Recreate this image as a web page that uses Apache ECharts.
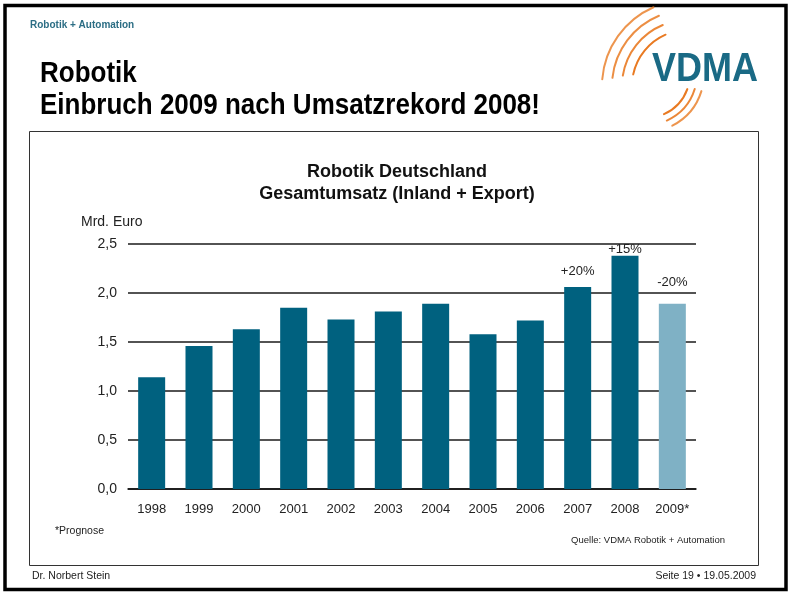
<!DOCTYPE html>
<html>
<head>
<meta charset="utf-8">
<script src="https://cdn.jsdelivr.net/npm/echarts@6/dist/echarts.min.js"></script>
<style>
  html, body { margin: 0; padding: 0; background: #fff; }
  #main { width: 791px; height: 600px; }
</style>
</head>
<body>
<div id="main"></div>
<script>
  // Daten: Robotik Deutschland, Gesamtumsatz in Mrd. Euro
  var years = ['1998', '1999', '2000', '2001', '2002', '2003', '2004', '2005', '2006', '2007', '2008', '2009*'];
  var umsatz = [1.14, 1.46, 1.63, 1.85, 1.73, 1.81, 1.89, 1.58, 1.72, 2.06, 2.38, 1.89];
  var changeLabels = ['', '', '', '', '', '', '', '', '', '+20%', '+15%', '-20%'];
  var yTicks = ['0,0', '0,5', '1,0', '1,5', '2,0', '2,5'];

  var FONT = '"Liberation Sans", Arial, sans-serif';
  var TEAL = '#00617f';
  var TEAL_LIGHT = '#7fb1c5';
  var ORANGE = '#e97a22';

  var chart = echarts.init(document.getElementById('main'), null, { renderer: 'canvas' });

  // Balken: 2009 ist Prognose -> hellere Farbe
  var barData = umsatz.map(function (v, i) {
    var item = { value: v };
    if (i === years.length - 1) {
      item.itemStyle = { color: TEAL_LIGHT };
    }
    if (changeLabels[i]) {
      item.label = {
        show: true,
        formatter: changeLabels[i],
        distance: i === 9 ? 9 : (i === 10 ? 0 : 15)
      };
    }
    return item;
  });

  // Logo-Bögen (orange)
  function arc(cx, cy, r, a0, a1, w, op) {
    return {
      type: 'arc',
      silent: true,
      shape: { cx: cx, cy: cy, r: r, startAngle: a0, endAngle: a1 },
      style: { stroke: ORANGE, lineWidth: w, fill: null, opacity: op, lineCap: 'round' }
    };
  }

  var option = {
    animation: false,
    textStyle: { fontFamily: FONT },
    grid: { left: 128, right: 95, top: 244, bottom: 111 },
    xAxis: {
      type: 'category',
      data: years,
      axisLine: { lineStyle: { color: '#111', width: 1.5 } },
      axisTick: { show: false },
      axisLabel: { color: '#222', fontSize: 13, margin: 14, fontFamily: FONT }
    },
    yAxis: {
      type: 'value',
      min: 0,
      max: 2.5,
      interval: 0.5,
      axisLine: { show: false },
      axisTick: { show: false },
      splitLine: { lineStyle: { color: '#1a1a1a', width: 1.5 } },
      axisLabel: {
        color: '#222',
        fontSize: 14,
        margin: 11,
        fontFamily: FONT,
        formatter: function (v) { return yTicks[Math.round(v / 0.5)]; }
      }
    },
    series: [{
      type: 'bar',
      data: barData,
      barWidth: 27,
      itemStyle: { color: TEAL },
      label: {
        show: false,
        position: 'top',
        color: '#222',
        fontSize: 13,
        fontFamily: FONT
      }
    }],
    graphic: [
      // Rahmen außen
      {
        type: 'rect', silent: true,
        shape: { x: 5, y: 5.5, width: 781, height: 584 },
        style: { fill: null, stroke: '#000', lineWidth: 3.5 }
      },
      // Diagrammbox
      {
        type: 'rect', silent: true,
        shape: { x: 29.5, y: 131.5, width: 729, height: 434 },
        style: { fill: null, stroke: '#333', lineWidth: 1 }
      },
      // Kopfzeile
      {
        type: 'text', left: 30, top: 20,
        style: { text: 'Robotik + Automation', fill: '#2b6d84', font: 'bold 10px ' + FONT }
      },
      {
        type: 'text', x: 40, y: 59, scaleY: 1.12,
        style: { text: 'Robotik', fill: '#000', font: 'bold 26px ' + FONT }
      },
      {
        type: 'text', x: 40, y: 91, scaleY: 1.12,
        style: { text: 'Einbruch 2009 nach Umsatzrekord 2008!', fill: '#000', font: 'bold 26px ' + FONT }
      },
      // VDMA Logo
      arc(688, 86, 86, 3.22, 4.3, 2, 0.8),
      arc(688, 86, 76, 3.25, 4.32, 2, 0.85),
      arc(688, 86, 66, 3.3, 4.32, 2, 0.9),
      arc(688, 86, 56, 3.35, 4.3, 2, 1),
      arc(646, 74, 44, 0.35, 1.15, 2, 1),
      arc(646, 74, 51, 0.3, 1.15, 2, 0.9),
      arc(646, 74, 58, 0.3, 1.1, 2, 0.8),
      {
        type: 'text', x: 652, y: 50, scaleY: 1.12,
        style: { text: 'VDMA', fill: '#1a6a85', font: 'bold 36px ' + FONT }
      },
      // Diagrammtitel
      {
        type: 'text', x: 397, y: 161,
        style: {
          text: 'Robotik Deutschland\nGesamtumsatz (Inland + Export)',
          fill: '#111', font: 'bold 18px ' + FONT, align: 'center', lineHeight: 22
        }
      },
      // Achsenbeschriftung
      {
        type: 'text', x: 81, y: 215,
        style: { text: 'Mrd. Euro', fill: '#222', font: '14px ' + FONT }
      },
      {
        type: 'text', x: 55, y: 526,
        style: { text: '*Prognose', fill: '#222', font: '10.5px ' + FONT }
      },
      {
        type: 'text', x: 725, y: 535,
        style: { text: 'Quelle: VDMA Robotik + Automation', fill: '#222', font: '9.5px ' + FONT, align: 'right' }
      },
      // Fußzeile
      {
        type: 'text', x: 32, y: 571,
        style: { text: 'Dr. Norbert Stein', fill: '#222', font: '10.5px ' + FONT }
      },
      {
        type: 'text', x: 756, y: 571,
        style: { text: 'Seite 19 \u2022 19.05.2009', fill: '#222', font: '10.5px ' + FONT, align: 'right' }
      }
    ]
  };

  chart.setOption(option);
</script>
</body>
</html>
